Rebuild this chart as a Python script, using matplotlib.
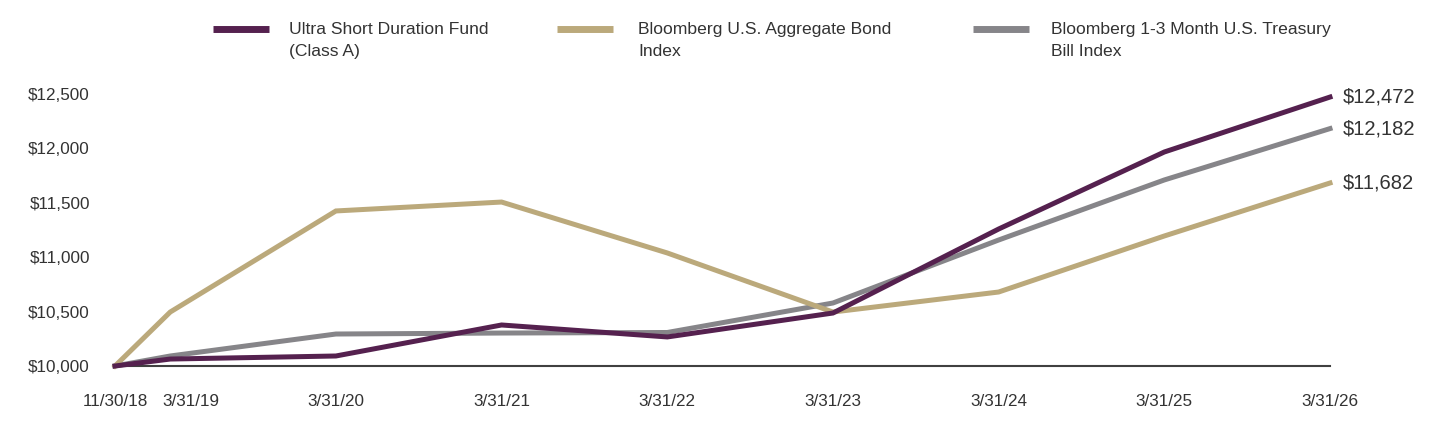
import matplotlib.pyplot as plt
from matplotlib.transforms import ScaledTranslation
from matplotlib.lines import Line2D

plt.rcParams['font.family'] = ['Liberation Sans', 'DejaVu Sans']

dates = ['11/30/18', '3/31/19', '3/31/20', '3/31/21', '3/31/22',
         '3/31/23', '3/31/24', '3/31/25', '3/31/26']
months = [0, 4, 16, 28, 40, 52, 64, 76, 88]  # months since 11/30/18

fund = [10000, 10064, 10092, 10377, 10267, 10487, 11259, 11967, 12472]
agg = [10000, 10496, 11425, 11507, 11039, 10496, 10680, 11195, 11682]
tbill = [10000, 10092, 10294, 10303, 10308, 10579, 11158, 11710, 12182]

names = ['Ultra Short Duration Fund\n(Class A)',
         'Bloomberg U.S. Aggregate Bond\nIndex',
         'Bloomberg 1-3 Month U.S. Treasury\nBill Index']
colors = ['#55214f', '#bba97b', '#868589']
yticks = [10000, 10500, 11000, 11500, 12000, 12500]

fig = plt.figure(figsize=(14.4, 4.32), dpi=100)
ax = fig.add_axes([115 / 1440, 1 - 366 / 432, (1330 - 115) / 1440, 272 / 432])

# gray first, then gold, fund on top
for series, c in [(tbill, colors[2]), (agg, colors[1]), (fund, colors[0])]:
    ax.plot(months, series, color=c, lw=3.6, clip_on=False,
            solid_joinstyle='miter', zorder=3)
    ax.annotate('${:,}'.format(series[-1]), (months[-1], series[-1]),
                xytext=(9, 0), textcoords='offset points', va='center',
                ha='left', fontsize=14.5, color='#333333', annotation_clip=False)

ax.set_xlim(0, 88)
ax.set_ylim(10000, 12500)
ax.set_xticks(months)
ax.set_xticklabels(dates)
ax.set_yticks(yticks)
ax.set_yticklabels(['${:,}'.format(v) for v in yticks])
ax.tick_params(length=0, labelsize=12.3, colors='#333333')
ax.tick_params(axis='x', pad=20)
ax.tick_params(axis='y', pad=18)

for s in ['top', 'right', 'left']:
    ax.spines[s].set_visible(False)
ax.spines['bottom'].set_color('#404040')
ax.spines['bottom'].set_linewidth(1.5)
ax.spines['bottom'].set_zorder(2)

# nudge the crowded 3/31/19 label right
lab = ax.get_xticklabels()[1]
lab.set_transform(lab.get_transform() + ScaledTranslation(0.21, 0, fig.dpi_scale_trans))

# legend drawn across the top
handle_x = [213, 557, 973]
text_x = [289, 638, 1051]
for hx, tx, name, c in zip(handle_x, text_x, names, colors):
    fig.add_artist(Line2D([hx / 1440, (hx + 56) / 1440], [1 - 29 / 432] * 2,
                          color=c, lw=5, solid_capstyle='butt'))
    fig.text(tx / 1440, 1 - 22 / 432, name, fontsize=12.6, color='#333333',
             va='top', ha='left', linespacing=1.6)

fig.savefig('out.png', dpi=100)
